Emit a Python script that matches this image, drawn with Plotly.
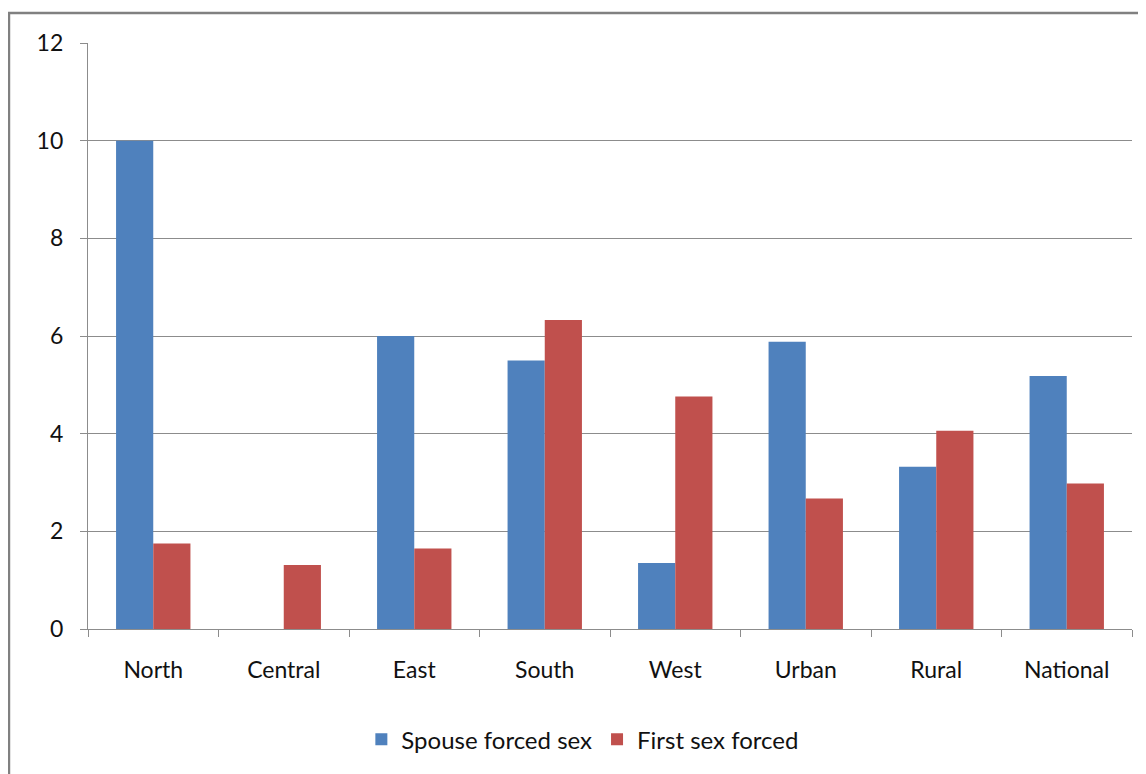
import plotly.graph_objects as go

regions = ['North', 'Central', 'East', 'South', 'West', 'Urban', 'Rural', 'National']
spouse_forced = [10.0, 0, 6.0, 5.5, 1.35, 5.88, 3.32, 5.18]
first_forced = [1.75, 1.31, 1.65, 6.33, 4.76, 2.67, 4.06, 2.98]

blue = '#4F81BD'
red = '#C0504D'
grid = '#8C8C8C'

fig = go.Figure()
fig.add_trace(go.Bar(name='Spouse forced sex', x=regions, y=spouse_forced,
                     marker=dict(color=blue, line=dict(width=0))))
fig.add_trace(go.Bar(name='First sex forced', x=regions, y=first_forced,
                     marker=dict(color=red, line=dict(width=0))))

# page has an 8px body margin, so the figure is sized/offset to compensate
fig.update_layout(
    width=1138, height=766,
    margin=dict(l=80, r=14, t=35, b=143),
    paper_bgcolor='white', plot_bgcolor='white',
    barmode='group', bargap=0.43, bargroupgap=0,
    font=dict(family='Lato, "Open Sans", sans-serif', size=23, color='#111111'),
    showlegend=True,
    legend=dict(orientation='h', x=0.474, xanchor='center', y=-0.189, yanchor='middle',
                font=dict(size=24), itemwidth=30, traceorder='normal'),
)
fig.update_xaxes(showline=True, linecolor=grid, linewidth=1.3,
                 ticks='outside', tickson='boundaries', ticklen=7, tickcolor=grid,
                 showgrid=False, ticklabelstandoff=20)
fig.update_yaxes(range=[0, 12], dtick=2, showline=True, linecolor=grid, linewidth=1.3,
                 ticks='outside', ticklen=7, tickcolor=grid,
                 showgrid=True, gridcolor=grid, gridwidth=1, zeroline=False,
                 ticklabelstandoff=12)

# outer chart frame
fig.add_shape(type='rect', xref='paper', yref='paper',
              x0=-0.0757, y0=-0.4, x1=1.05, y1=1.051,
              line=dict(color='#808080', width=2.5), layer='below')

fig.write_html("out.html")
